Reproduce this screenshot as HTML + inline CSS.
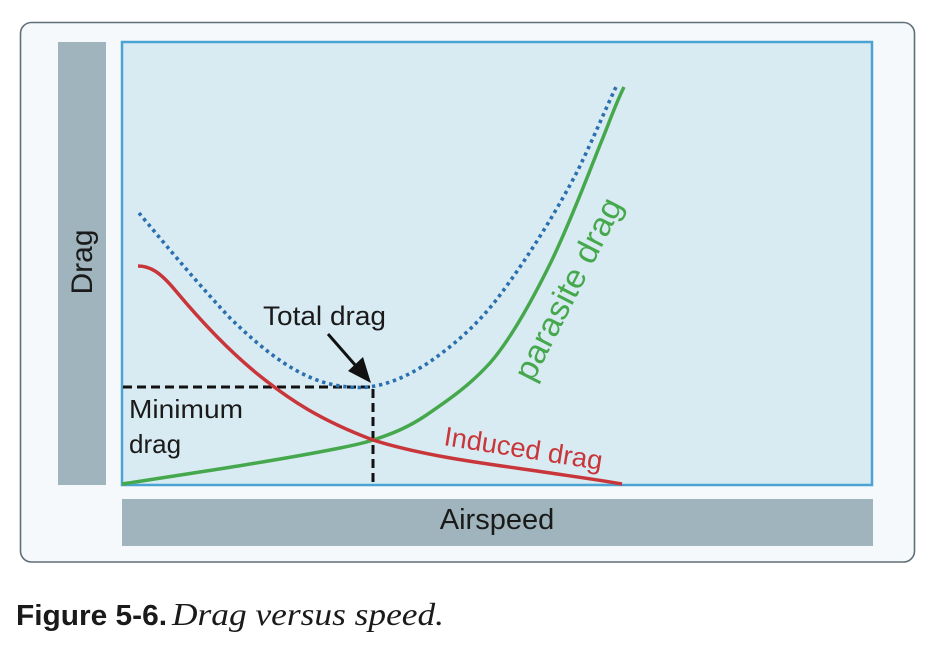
<!DOCTYPE html>
<html>
<head>
<meta charset="utf-8">
<style>
html,body{margin:0;padding:0;background:#ffffff;}
svg{display:block;}
</style>
</head>
<body>
<svg width="944" height="646" viewBox="0 0 944 646" xmlns="http://www.w3.org/2000/svg">
  <rect x="0" y="0" width="944" height="646" fill="#ffffff"/>
  <!-- outer frame -->
  <rect x="20.5" y="22.5" width="894" height="539.5" rx="11" ry="11" fill="#f5f9fb" stroke="#5f6f76" stroke-width="1.6"/>
  <!-- left gray bar -->
  <rect x="58" y="42" width="48" height="443" fill="#9fb4bd"/>
  <!-- bottom gray bar -->
  <rect x="122" y="499" width="751" height="47" fill="#9fb4bd"/>
  <!-- plot area -->
  <rect x="122" y="42" width="750" height="443" fill="#d8ebf3" stroke="#4ba3d3" stroke-width="2.5"/>

  <!-- dashed min drag lines -->
  <path d="M123 387 L373 387 L373 484" fill="none" stroke="#111111" stroke-width="3" stroke-dasharray="9 5"/>

  <!-- parasite drag (green) -->
  <path d="M122 484 C 200 472, 280 460, 340 448 C 360 444, 370 441, 373 440 C 395 433, 410 426, 425 416 C 450 399, 470 385, 490 363 C 510 340, 530 305, 552 260 C 572 218, 590 170, 600 145 C 608 126, 615 105, 624 87" fill="none" stroke="#46a84c" stroke-width="3.5"/>

  <!-- induced drag (red) -->
  <path d="M138 266 C 150 266, 160 272, 175 290 C 200 320, 230 352, 260 376 C 290 400, 320 420, 373 440 C 420 455, 480 463, 530 470 C 570 476, 600 480, 622 484" fill="none" stroke="#c9363a" stroke-width="3.5"/>

  <!-- total drag (blue dotted) -->
  <path d="M139 213 C 160 238, 190 275, 230 318 C 265 352, 300 380, 340 386 C 355 388, 365 388, 375 386 C 395 382, 410 374, 425 365 C 455 345, 480 322, 500 295 C 530 255, 560 205, 578 170 C 595 135, 605 110, 616 87" fill="none" stroke="#2a6fae" stroke-width="3.6" stroke-dasharray="3.4 3.8"/>

  <!-- arrow -->
  <line x1="328" y1="334" x2="356" y2="366" stroke="#111111" stroke-width="3"/>
  <polygon points="371,383 348,371 363,357" fill="#111111"/>

  <!-- labels -->
  <text x="82" y="262" font-family="Liberation Sans, Arial, sans-serif" font-size="30" fill="#1a1a1a" text-anchor="middle" transform="rotate(-90 82 262)" dy="10">Drag</text>
  <text x="497" y="529" font-family="Liberation Sans, Arial, sans-serif" font-size="29" fill="#1a1a1a" text-anchor="middle">Airspeed</text>
  <text x="263" y="325" font-family="Liberation Sans, Arial, sans-serif" font-size="27" fill="#1a1a1a" textLength="123" lengthAdjust="spacingAndGlyphs">Total drag</text>
  <text x="129" y="418" font-family="Liberation Sans, Arial, sans-serif" font-size="26" fill="#1a1a1a" textLength="114" lengthAdjust="spacingAndGlyphs">Minimum</text>
  <text x="129" y="453" font-family="Liberation Sans, Arial, sans-serif" font-size="26" fill="#1a1a1a">drag</text>
  <text x="443" y="445" font-family="Liberation Sans, Arial, sans-serif" font-size="27" fill="#c9363a" transform="rotate(9 443 445)" textLength="160" lengthAdjust="spacingAndGlyphs">Induced drag</text>
  <text x="578" y="294" font-family="Liberation Sans, Arial, sans-serif" font-size="33" fill="#46a84c" text-anchor="middle" transform="rotate(-63 578 294)" textLength="200" lengthAdjust="spacingAndGlyphs">parasite drag</text>

  <!-- caption -->
  <text x="16" y="625" font-family="Liberation Sans, Arial, sans-serif" font-size="29" font-weight="bold" fill="#1a1a1a" textLength="151" lengthAdjust="spacingAndGlyphs">Figure 5-6.</text>
  <text x="172" y="625" font-family="Liberation Serif, Times New Roman, serif" font-size="32" font-style="italic" fill="#1a1a1a" textLength="272" lengthAdjust="spacingAndGlyphs">Drag versus speed.</text>
</svg>
</body>
</html>
